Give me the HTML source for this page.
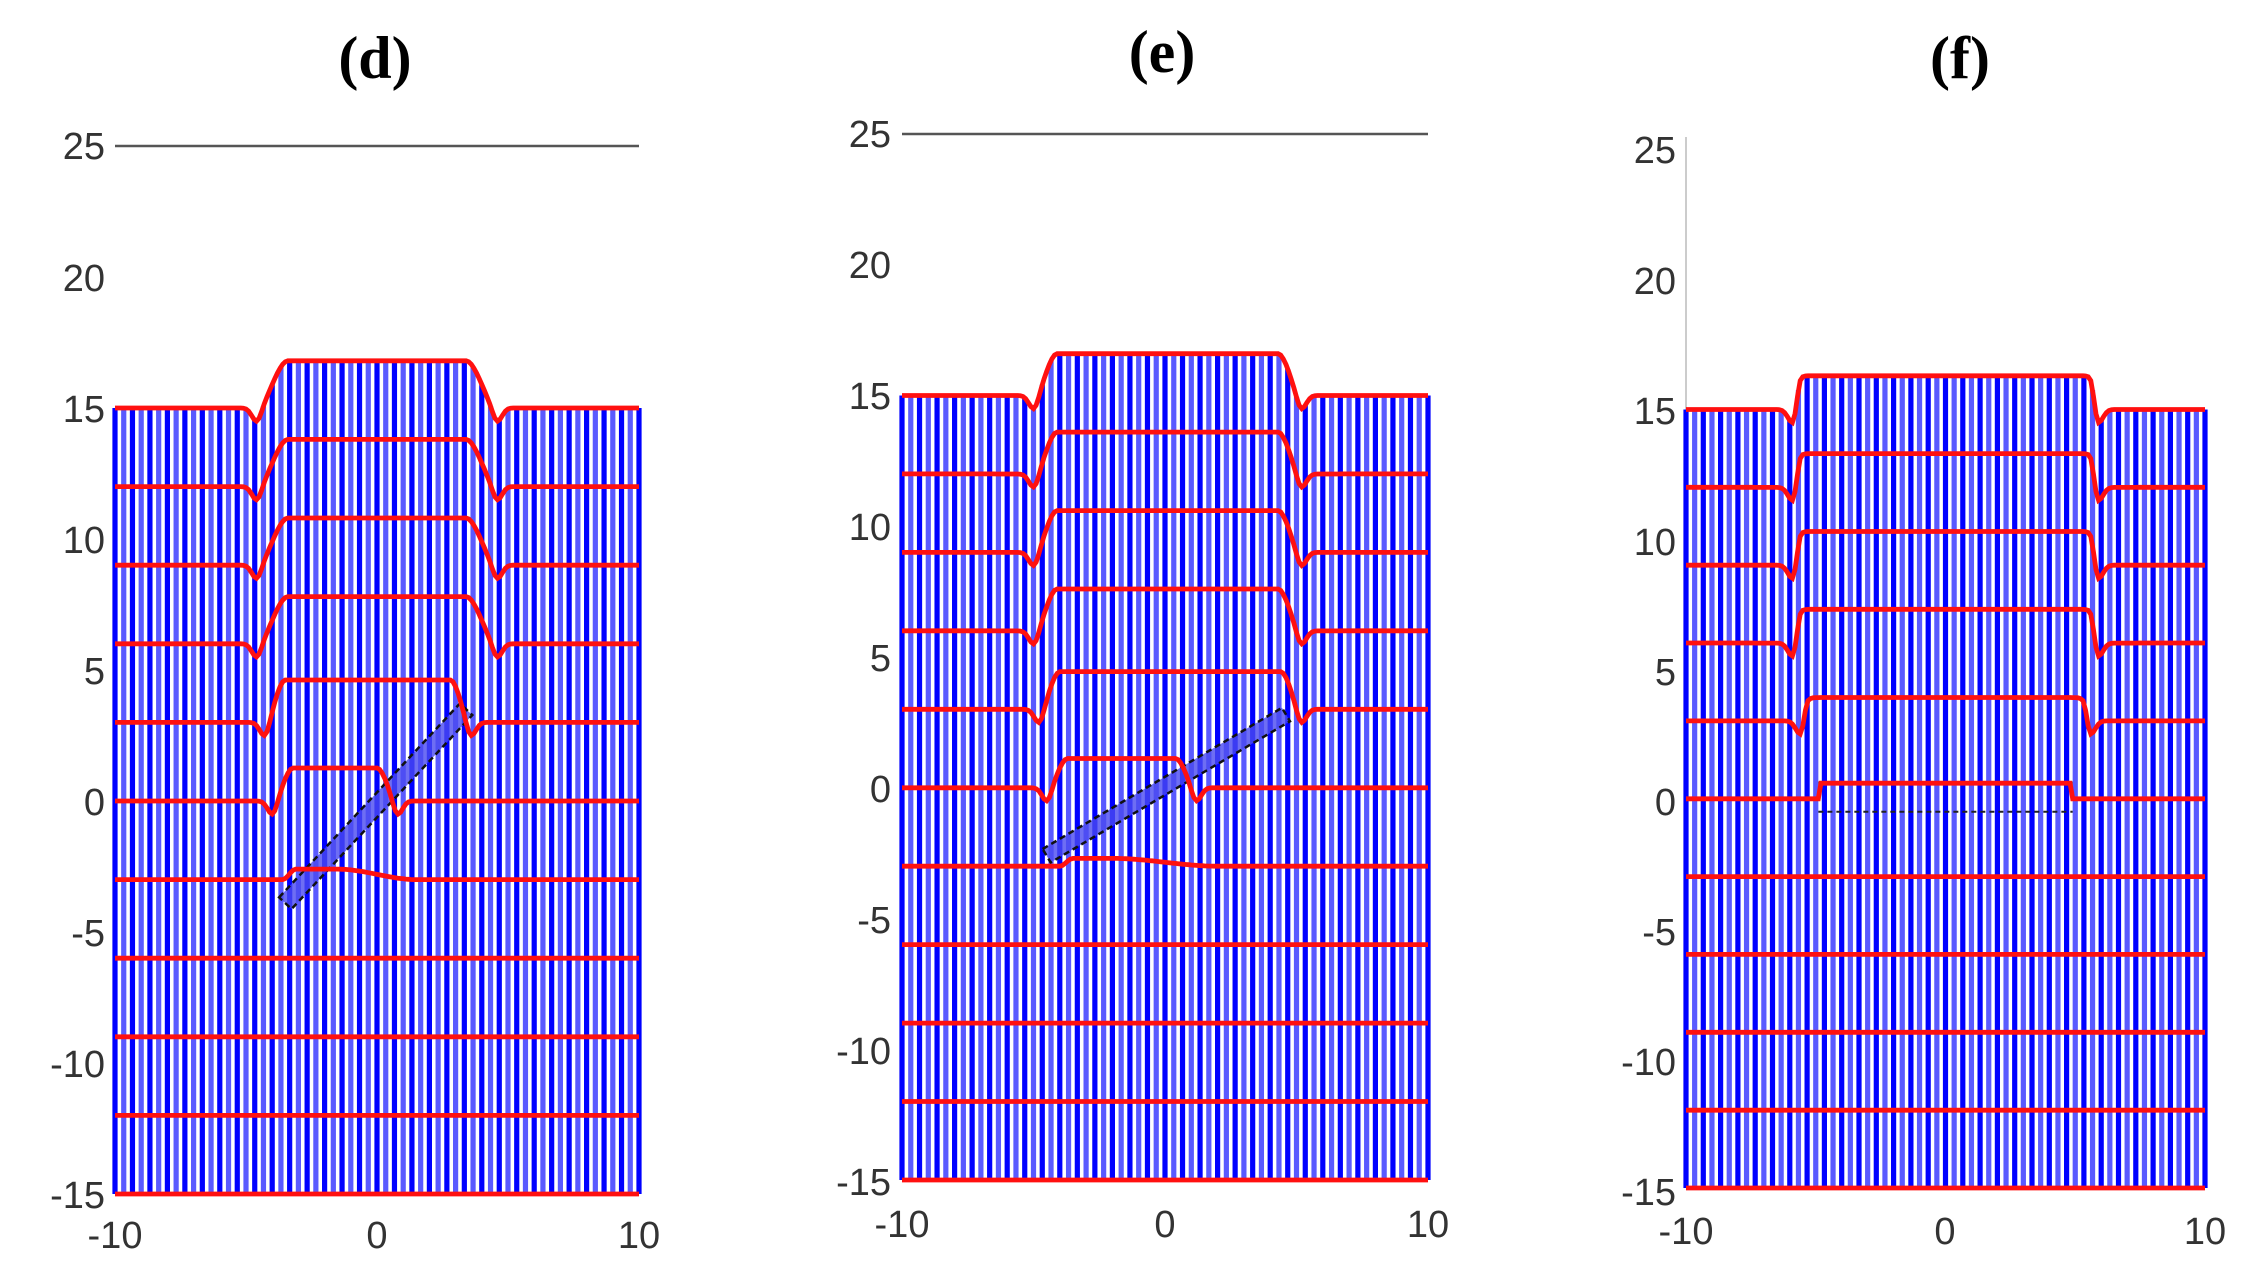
<!DOCTYPE html>
<html><head><meta charset="utf-8"><style>
html,body{margin:0;padding:0;background:#fff;width:2250px;height:1266px;overflow:hidden}
svg{display:block}
.t{font-family:"Liberation Serif",serif;font-weight:bold;font-size:60px;fill:#000;text-anchor:middle}
.tk{font-family:"Liberation Sans",sans-serif;font-size:38px;fill:#333}
</style></head><body>
<svg id="s" width="2250" height="1266" xmlns="http://www.w3.org/2000/svg">
<text class="t" x="375" y="78">(d)</text>
<text class="t" x="1162" y="72">(e)</text>
<text class="t" x="1960" y="78">(f)</text>
<g class="tk" text-anchor="end">
<text x="105" y="159">25</text><text x="105" y="291">20</text><text x="105" y="422">15</text><text x="105" y="553">10</text><text x="105" y="684">5</text><text x="105" y="815">0</text><text x="105" y="946">-5</text><text x="105" y="1077">-10</text><text x="105" y="1208">-15</text>
<text x="891" y="147">25</text><text x="891" y="278">20</text><text x="891" y="409">15</text><text x="891" y="540">10</text><text x="891" y="671">5</text><text x="891" y="802">0</text><text x="891" y="933">-5</text><text x="891" y="1064">-10</text><text x="891" y="1195">-15</text>
<text x="1676" y="163">25</text><text x="1676" y="294">20</text><text x="1676" y="424">15</text><text x="1676" y="555">10</text><text x="1676" y="685">5</text><text x="1676" y="815">0</text><text x="1676" y="945">-5</text><text x="1676" y="1075">-10</text><text x="1676" y="1205">-15</text>
</g>
<g class="tk" text-anchor="middle">
<text x="115" y="1248">-10</text><text x="377" y="1248">0</text><text x="639" y="1248">10</text>
<text x="902" y="1237">-10</text><text x="1165" y="1237">0</text><text x="1428" y="1237">10</text>
<text x="1686" y="1244">-10</text><text x="1945" y="1244">0</text><text x="2205" y="1244">10</text>
</g>
<g id="g"></g>
</svg>
<script>
var NS="http://www.w3.org/2000/svg",G=document.getElementById("g");
function el(t,a){var e=document.createElementNS(NS,t);for(var k in a)e.setAttribute(k,a[k]);G.appendChild(e);return e;}
function sm(t){t=Math.max(0,Math.min(1,t));return t*t*(3-2*t);}
var P=[
 {x0:115,x1:639,y25:146,y15m:1194,L:-4.6,R:4.6,h:1.8,w:1.2,band:[[-3.5,-3.9],[3.4,3.5]],bw:0.65,axis25:true},
 {x0:902,x1:1428,y25:134,y15m:1180,L:-5.0,R:5.2,h:1.6,w:0.9,band:[[-4.5,-2.6],[4.6,2.8]],bw:0.6,axis25:true},
 {x0:1686,x1:2205,y25:150,y15m:1188,L:-5.9,R:5.9,h:1.3,w:0.35,band:[[-4.8,0.05],[4.8,0.05]],bw:1.1,axis25:false}
];
P.forEach(function(p,pi){
 var sx=function(x){return p.x0+(x+10)/20*(p.x1-p.x0)};
 var k=(p.y15m-p.y25)/40,sy=function(y){return p.y25+(25-y)*k};
 function bump(x,L,R,h,w){var up=sm((x-L)/w)*sm((R-x)/w);var dip=0;
   dip-=0.5*Math.exp(-Math.pow((x-L)/0.25,2));dip-=0.5*Math.exp(-Math.pow((x-R)/0.25,2));return up*h+dip;}
 function top(x){return 15+bump(x,p.L,p.R,p.h,p.w);}
 if(p.axis25){el("line",{x1:sx(-10),y1:sy(25),x2:sx(10),y2:sy(25),stroke:"#555","stroke-width":2.5});}
 else{el("line",{x1:sx(-10),y1:sy(25.5),x2:sx(-10),y2:sy(15),stroke:"#ccc","stroke-width":2});}
 var N=61;
 for(var i=0;i<N;i++){var x=-10+20*i/(N-1);
   el("line",{x1:sx(x),y1:sy(-15),x2:sx(x),y2:sy(top(x)),stroke:(i%2?"#5a5aff":"#0000ff"),"stroke-width":5.2});}
 var a=p.band[0],b=p.band[1],dx=b[0]-a[0],dy=b[1]-a[1],ln=Math.hypot(dx,dy),nx=-dy/ln*p.bw/2,ny=dx/ln*p.bw/2;
 if(pi<2){
 var pts=[[a[0]+nx,a[1]+ny],[b[0]+nx,b[1]+ny],[b[0]-nx,b[1]-ny],[a[0]-nx,a[1]-ny]].map(function(q){return sx(q[0])+","+sy(q[1])}).join(" ");
 el("polygon",{points:pts,fill:"#4a4af0","fill-opacity":0.8,stroke:"#111","stroke-width":2.5,"stroke-dasharray":"6 4"});
 } else {
 el("line",{x1:sx(-4.9),y1:sy(0.6),x2:sx(4.9),y2:sy(0.6),stroke:"#222","stroke-width":3});
 el("line",{x1:sx(-4.9),y1:sy(-0.5),x2:sx(4.9),y2:sy(-0.5),stroke:"#222","stroke-width":2,"stroke-dasharray":"5 4"});
 }
 for(var j=0;j<11;j++){var y0=15-3*j,d="";
   for(var t=0;t<=200;t++){var x=-10+20*t/200,y=y0;
     if(y0>=6) y=y0+bump(x,p.L,p.R,p.h,p.w);
     else if(pi<2&&(y0==3||y0==0)){
       var R=(y0==3)?(pi==0?3.6:4.8):(pi==0?0.8:1.2);
       var h=(y0==3)?p.h*0.9:p.h*0.7;
       if(y0==3&&pi==1)R=5.2;
       y=y0+bump(x,(pi==0?-4.3:-4.8)+(y0==0?0.3:0),R,h,0.8);}
     else if(pi==2&&y0==3) y=y0+bump(x,-5.6,5.6,0.9,0.3);
     else if(pi==2&&y0==0){y=y0+(Math.abs(x)<4.9?0.6:0);}
     else if(pi==0&&y0==-3){y=y0+0.4*sm((x+3.6)/0.5)*sm((1.5-x)/3);}
     else if(pi==1&&y0==-3){y=y0+0.3*sm((x+4)/0.5)*sm((2-x)/4);}
     d+=(t?"L":"M")+sx(x).toFixed(1)+","+sy(y).toFixed(1);}
   el("path",{d:d,fill:"none",stroke:"#ff1010","stroke-width":4.8});}
});
</script>
</body></html>
